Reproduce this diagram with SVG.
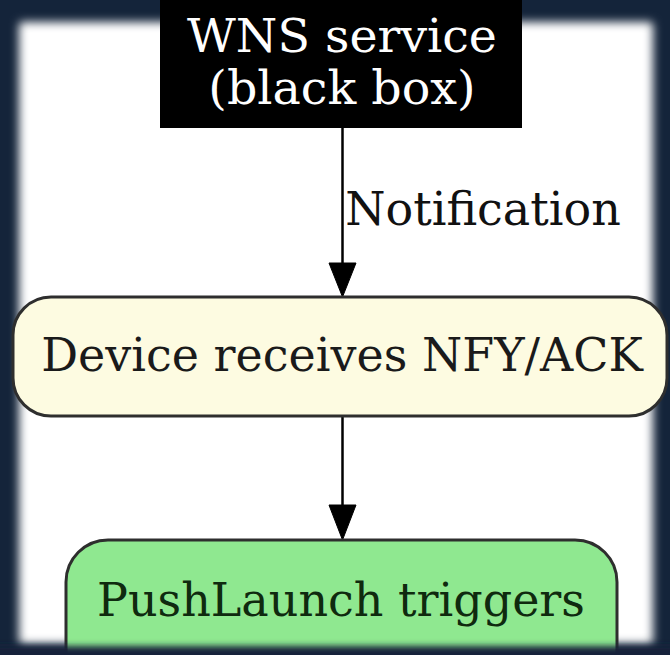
<svg xmlns="http://www.w3.org/2000/svg" width="670" height="655" viewBox="0 0 670 655">
  <defs>
    <filter id="soft" x="-10%" y="-10%" width="120%" height="120%">
      <feGaussianBlur stdDeviation="5"/>
    </filter>
    <filter id="softEdge" x="-10%" y="-50%" width="120%" height="200%">
      <feGaussianBlur stdDeviation="3"/>
    </filter>
    <style>
      .lbl { font-family: "DejaVu Serif", "Liberation Serif", serif; font-size: 46px; text-anchor: middle; }
      .edge { stroke: #000; stroke-width: 2.5; fill: none; }
      .head { fill: #000; stroke: #000; stroke-width: 1; }
      .node { stroke: #2e2e2e; stroke-width: 3; }
    </style>
  </defs>

  <!-- frame and page -->
  <rect x="0" y="0" width="670" height="655" fill="#14243a"/>
  <rect x="19" y="22" width="634" height="622" rx="4" fill="#ffffff" filter="url(#soft)"/>

  <!-- connectors -->
  <g id="edges">
    <line class="edge" x1="342.5" y1="128" x2="342.5" y2="266"/>
    <polygon class="head" points="329,263 356,263 342.5,297"/>
    <text class="lbl" x="483" y="225" fill="#111">Notification</text>

    <line class="edge" x1="342.5" y1="417" x2="342.5" y2="508"/>
    <polygon class="head" points="329,505 356,505 342.5,540"/>
  </g>

  <!-- WNS service node -->
  <g id="wns">
    <rect x="160" y="0" width="362" height="128" fill="#000"/>
    <text class="lbl" x="342" y="52" fill="#ffffff" style="font-size:47.5px">WNS service</text>
    <text class="lbl" x="342" y="104" fill="#ffffff" style="font-size:47.5px">(black box)</text>
  </g>

  <!-- device node -->
  <g id="device">
    <rect class="node" x="13" y="297" width="654" height="119" rx="38" fill="#fdfbe1"/>
    <text class="lbl" x="342" y="371" fill="#1a1a1a">Device receives NFY/ACK</text>
  </g>

  <!-- push launch node -->
  <g id="pushlaunch">
    <rect class="node" x="66" y="540" width="551" height="150" rx="42" fill="#8fe890" stroke="#2d4a2d"/>
    <text class="lbl" x="341" y="616" fill="#0f2a0f">PushLaunch triggers</text>
  </g>

  <!-- lower frame edge over the last node -->
  <rect x="-20" y="646" width="710" height="40" fill="#14243a" filter="url(#softEdge)"/>
</svg>
